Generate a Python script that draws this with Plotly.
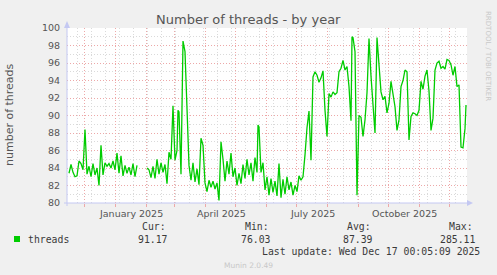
import plotly.graph_objects as go
import pandas as pd

# ---------------- data ----------------
START = pd.Timestamp("2024-11-13 12:00")
END = START + pd.Timedelta(days=400)

# days since START
day_offset = [2, 4, 6, 8, 10, 12, 14, 16, 18, 20, 22, 24, 26, 28, 30, 32, 34, 36, 38, 40,
              42, 44, 46, 48, 50, 52, 54, 56, 58, 60, 62, 64, 66, 68, 70, 73,
              80, 82, 84, 86, 88, 90, 92, 94, 96, 98, 100, 102, 104, 106, 108, 110, 111, 112,
              114, 116, 118, 120, 122, 124, 126, 128, 130, 132, 134, 136, 138, 140, 142, 144,
              146, 148, 150, 152, 154, 156, 158, 160, 162, 164, 166, 168, 170, 172, 174, 176,
              178, 180, 182, 184, 186, 188, 190, 191, 192, 194, 196, 198, 200, 202, 204, 206,
              208, 210, 212, 214, 216, 218, 220, 222, 224, 226, 228, 230, 232, 234, 236, 238,
              240, 242, 244, 246, 248, 250, 252, 254, 256, 258, 260, 262, 264, 266, 268, 270,
              272, 274, 276, 278, 280, 282, 284, 285, 286, 288, 290, 292, 294, 296, 298, 300,
              302, 304, 306, 308, 310, 312, 314, 316, 318, 320, 322, 324, 326, 328, 330, 332,
              334, 336, 338, 340, 342, 344, 346, 348, 350, 352, 354, 356, 358, 360, 362, 364,
              366, 368, 370, 372, 374, 376, 378, 380, 382, 384, 386, 388, 390, 392, 394, 396,
              398, 399]
threads = [83.4, 84.4, 83.5, 83.0, 83.1, 84.8, 84.5, 83.8, 88.4, 83.3, 84.2, 83.0, 84.5, 83.2, 84.0, 82.0, 86.6, 83.2, 84.6, 84.2,
           84.5, 84.0, 84.8, 83.8, 85.7, 83.4, 85.4, 83.1, 84.3, 83.4, 84.1, 83.2, 84.5, 83.0, 84.3, None,
           84.0, 83.8, 82.9, 84.2, 82.8, 85.0, 83.3, 84.6, 83.5, 84.4, 82.2, 85.8, 85.0, 91.1, 84.9, 86.0, 90.6, 90.4,
           83.3, 98.5, 97.3, 91.0, 84.3, 82.6, 84.6, 82.4, 83.9, 82.1, 87.4, 86.6, 82.3, 81.3, 82.6, 81.8,
           82.5, 81.6, 82.3, 80.3, 87.0, 85.0, 82.5, 84.8, 83.3, 85.7, 83.0, 84.0, 82.0, 83.4, 82.2, 84.4,
           82.8, 85.0, 83.2, 84.6, 82.5, 85.2, 83.5, 88.9, 88.7, 83.5, 84.6, 81.5, 83.0, 80.9, 82.8, 81.2,
           82.5, 80.8, 84.5, 80.6, 82.7, 81.0, 83.0, 81.5, 82.4, 80.9, 82.0, 81.3, 83.1, 82.6, 83.0, 85.5,
           88.6, 90.5, 84.9, 94.4, 95.0, 94.6, 93.8, 94.3, 95.1, 90.6, 87.6, 92.5, 92.1, 92.7, 92.4, 92.6,
           95.0, 95.4, 96.3, 95.2, 95.6, 93.3, 89.4, 99.0, 98.9, 97.3, 80.9, 90.0, 89.8, 87.6, 89.5, 92.6,
           98.8, 94.5, 90.6, 88.0, 98.9, 96.0, 92.7, 91.8, 92.2, 90.3, 91.4, 93.9, 92.4, 91.0, 88.3, 89.5,
           93.3, 94.0, 95.2, 95.0, 87.2, 89.9, 90.3, 90.2, 90.0, 90.6, 93.9, 93.0, 94.5, 95.2, 92.8, 88.3,
           89.7, 95.2, 96.0, 96.2, 95.4, 95.6, 95.3, 96.4, 96.3, 95.8, 94.6, 95.6, 93.3, 93.5, 86.4, 86.3,
           88.5, 91.2]

month_labels = ["January 2025", "April 2025", "July 2025", "October 2025"]
month_label_dates = ["2025-01-16 12:00", "2025-04-16 12:00", "2025-07-16 12:00", "2025-10-16 12:00"]
y_ticks = [80, 82, 84, 86, 88, 90, 92, 94, 96, 98, 100]

stat_names = ["Cur:", "Min:", "Avg:", "Max:"]
stat_values = ["91.17", "76.03", "87.39", "285.11"]
series_name = "threads"
title = "Number of threads - by year"
y_title = "number of threads"
last_update = "Last update: Wed Dec 17 00:05:09 2025"
footer = "Munin 2.0.49"
side_text = "RRDTOOL / TOBI OETIKER"

# ---------------- geometry helpers ----------------
W, H = 497, 275
L, R, T, B = 67, 467, 28, 203


def px(x):
    return (x - L) / (R - L)


def py(y):
    return (B - y) / (B - T)


dates = [START + pd.Timedelta(days=d) for d in day_offset]
month_starts = list(pd.date_range("2024-12-01", "2025-12-01", freq="MS"))

GREEN = "#00CC00"
MAJOR = "#EDA8A8"
MINOR = "#DADADA"
AXIS = "#C4C8F2"
TXT = "#555555"
LEG = "#3a3a3a"
DASH = "1px,2px"

fig = go.Figure()
fig.add_trace(go.Scatter(
    x=dates, y=threads, mode="lines", connectgaps=False,
    line=dict(color=GREEN, width=1.3), showlegend=False, hoverinfo="skip"))

fig.update_layout(
    width=W, height=H,
    margin=dict(l=L, r=W - R, t=T, b=H - B, pad=0),
    paper_bgcolor="#F0F0F0", plot_bgcolor="#FFFFFF",
    showlegend=False,
    font=dict(family="DejaVu Sans", color=TXT),
)
fig.update_xaxes(
    type="date", range=[START, END],
    tickmode="array", tickvals=month_starts, ticktext=[""] * len(month_starts),
    showgrid=True, gridcolor=MAJOR, griddash=DASH, gridwidth=1,
    ticks="outside", ticklen=3, tickcolor=MAJOR,
    minor=dict(tick0="2024-11-24", dtick=14 * 86400000, showgrid=True,
               gridcolor=MINOR, griddash=DASH, gridwidth=1, ticks=""),
    showline=False, zeroline=False, fixedrange=True,
)
fig.update_yaxes(
    range=[80, 100], tickmode="array", tickvals=y_ticks,
    ticktext=[str(v) for v in y_ticks],
    tickfont=dict(size=9.5, color=TXT, family="DejaVu Sans"),
    showgrid=True, gridcolor=MAJOR, griddash=DASH, gridwidth=1,
    ticks="outside", ticklen=4, tickcolor="rgba(0,0,0,0)",
    minor=dict(dtick=1, tick0=81, showgrid=True, gridcolor=MINOR, griddash=DASH, gridwidth=1),
    showline=False, zeroline=False, fixedrange=True,
)

shapes = []
# axis lines + arrows
shapes.append(dict(type="line", xref="paper", yref="paper", x0=px(64), x1=px(470), y0=0, y1=0,
                   line=dict(color=AXIS, width=1)))
shapes.append(dict(type="line", xref="paper", yref="paper", x0=0, x1=0, y0=py(206), y1=py(24),
                   line=dict(color=AXIS, width=1)))
shapes.append(dict(type="path", xref="paper", yref="paper",
                   path=f"M {px(467)} {py(200)} L {px(473)} {py(203)} L {px(467)} {py(206)} Z",
                   fillcolor=AXIS, line=dict(width=0)))
shapes.append(dict(type="path", xref="paper", yref="paper",
                   path=f"M {px(64)} {py(28)} L {px(67)} {py(21)} L {px(70)} {py(28)} Z",
                   fillcolor=AXIS, line=dict(width=0)))
# legend swatch
shapes.append(dict(type="rect", xref="paper", yref="paper",
                   x0=px(14), x1=px(20), y0=py(242), y1=py(236),
                   fillcolor=GREEN, line=dict(width=0)))
fig.update_layout(shapes=shapes)

ann = []
ann.append(dict(text=title, xref="paper", yref="paper", x=px(248), y=py(19),
                xanchor="center", yanchor="middle", showarrow=False,
                font=dict(size=13, color=TXT, family="DejaVu Sans")))
ann.append(dict(text=y_title, xref="paper", yref="paper", x=px(9), y=py(115),
                xanchor="center", yanchor="middle", textangle=-90, showarrow=False,
                font=dict(size=11, color=TXT, family="DejaVu Sans")))
ann.append(dict(text=side_text, xref="paper", yref="paper", x=px(488), y=py(56),
                xanchor="center", yanchor="middle", textangle=90, showarrow=False,
                font=dict(size=7, color="#C8C8C8", family="DejaVu Sans")))
for lab, d in zip(month_labels, month_label_dates):
    ann.append(dict(text=lab, xref="x", yref="paper", x=d, y=py(213),
                    xanchor="center", yanchor="middle", showarrow=False,
                    font=dict(size=9.5, color=TXT, family="DejaVu Sans")))

mono = dict(size=9.8, color=LEG, family="DejaVu Sans Mono")
ann.append(dict(text=series_name, xref="paper", yref="paper", x=px(26), y=py(239),
                xanchor="left", yanchor="middle", showarrow=False, font=mono))
name_x = [140, 243, 345, 447]
val_right = [170, 273, 375, 477]
for n, v, nx, vr in zip(stat_names, stat_values, name_x, val_right):
    ann.append(dict(text=n, xref="paper", yref="paper", x=px(nx), y=py(226),
                    xanchor="left", yanchor="middle", showarrow=False, font=mono))
    ann.append(dict(text=v, xref="paper", yref="paper", x=px(vr), y=py(239),
                    xanchor="right", yanchor="middle", showarrow=False, font=mono))
ann.append(dict(text=last_update, xref="paper", yref="paper", x=px(482), y=py(251),
                xanchor="right", yanchor="middle", showarrow=False, font=mono))
ann.append(dict(text=footer, xref="paper", yref="paper", x=px(248), y=py(265),
                xanchor="center", yanchor="middle", showarrow=False,
                font=dict(size=7.5, color="#C8C8C8", family="DejaVu Sans")))
fig.update_layout(annotations=ann)

fig.write_html("out.html", config={"displayModeBar": False})
